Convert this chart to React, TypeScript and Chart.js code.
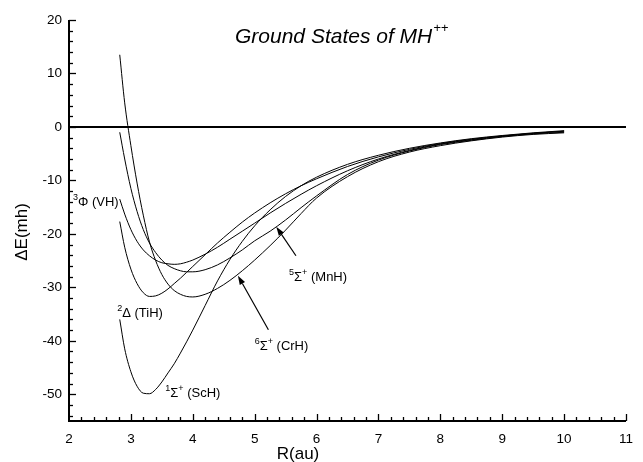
import { useEffect, useRef } from "react";
import { Chart, registerables } from "chart.js";

Chart.register(...registerables);

// ---------- data ----------
const R_GRID = [2.82, 2.9, 3.0, 3.1, 3.2, 3.3, 3.4, 3.5, 3.6, 3.7, 3.8, 3.9, 4.0, 4.2, 4.4, 4.6, 4.8, 5.0, 5.25, 5.5, 5.75, 6.0, 6.5, 7.0, 7.5, 8.0, 8.5, 9.0, 9.5, 10.0];

const SCH = [-36, -41.5, -45.8, -48.5, -49.8, -49.9, -49.1, -47.7, -46.0, -44.3, -42.3, -40.2, -38.0, -33.4, -28.8, -24.8, -21.4, -18.5, -15.5, -13.0, -11.0, -9.4, -7.0, -5.3, -4.0, -3.0, -2.2, -1.6, -1.1, -0.7];
const TIH = [-17.7, -22.5, -26.6, -29.3, -31.0, -31.7, -31.6, -31.1, -30.3, -29.3, -28.3, -27.2, -26.1, -23.9, -21.7, -19.7, -17.8, -16.1, -14.2, -12.5, -11.0, -9.7, -7.4, -5.6, -4.2, -3.1, -2.3, -1.7, -1.2, -0.8];
const VH = [-13.5, -16.3, -19.2, -21.4, -23.0, -24.1, -24.9, -25.4, -25.6, -25.7, -25.6, -25.3, -24.9, -23.8, -22.5, -21.0, -19.5, -18.0, -16.1, -14.3, -12.6, -11.0, -8.2, -6.0, -4.4, -3.2, -2.4, -1.7, -1.2, -0.8];
const CRH = [13.5, 4.5, -3.5, -10.5, -16.5, -21.5, -25.0, -27.6, -29.4, -30.6, -31.3, -31.7, -31.8, -31.3, -30.2, -28.7, -26.9, -24.9, -22.2, -19.3, -16.2, -13.3, -9.3, -6.5, -4.7, -3.5, -2.6, -1.9, -1.4, -1.1];
const MNH = [-1.0, -6.0, -11.5, -15.8, -19.2, -21.7, -23.5, -24.9, -25.9, -26.5, -26.9, -27.1, -27.1, -26.7, -25.8, -24.5, -23.0, -21.3, -19.5, -17.4, -15.1, -12.9, -8.9, -6.2, -4.5, -3.3, -2.5, -1.8, -1.3, -1.0];

const ZERO_R = [2, 11];
const ZERO_E = [0, 0];

const X_MIN = 2;
const X_MAX = 11;
const Y_MIN = -55;
const Y_MAX = 20;

const TITLE_MAIN = "Ground States of MH";
const TITLE_SUP = "++";
const X_TITLE = "R(au)";
const Y_TITLE = "ΔE(mh)";

// curve labels: parts (sup = superscript), anchor in data coords (R, E)
type Part = { t: string; sup?: boolean };
const LABEL_PARTS: Part[][] = [
  [{ t: "3", sup: true }, { t: "Φ (VH)" }],
  [{ t: "2", sup: true }, { t: "Δ (TiH)" }],
  [{ t: "1", sup: true }, { t: "Σ" }, { t: "+", sup: true }, { t: " (ScH)" }],
  [{ t: "6", sup: true }, { t: "Σ" }, { t: "+", sup: true }, { t: " (CrH)" }],
  [{ t: "5", sup: true }, { t: "Σ" }, { t: "+", sup: true }, { t: " (MnH)" }],
];
const LABEL_R = [2.063, 2.778, 3.556, 5.0, 5.556];
const LABEL_E = [-14.74, -35.5, -50.45, -41.67, -28.76];

// arrows (from -> tip) in data coords
const ARROW_FROM_R = [5.222, 5.667];
const ARROW_FROM_E = [-37.93, -24.09];
const ARROW_TO_R = [4.73, 5.349];
const ARROW_TO_E = [-27.83, -18.66];

const FONT = "'Liberation Sans', Arial, Helvetica, sans-serif";

function pts(xs: number[], ys: number[]) {
  return xs.map((x, i) => ({ x, y: ys[i] }));
}

function drawParts(ctx: CanvasRenderingContext2D, parts: Part[], x: number, y: number, size: number, supSize: number) {
  let cx = x;
  for (const p of parts) {
    if (p.sup) {
      ctx.font = `${supSize}px ${FONT}`;
      ctx.fillText(p.t, cx, y - size * 0.42);
    } else {
      ctx.font = `${size}px ${FONT}`;
      ctx.fillText(p.t, cx, y);
    }
    cx += ctx.measureText(p.t).width;
  }
}

const overlay = {
  id: "overlay",
  afterDraw(chart: any) {
    const { ctx, chartArea: a, scales } = chart;
    const xs = scales.x;
    const ys = scales.y;
    ctx.save();
    ctx.strokeStyle = "#000";
    ctx.fillStyle = "#000";

    // axes lines
    ctx.lineWidth = 2;
    ctx.beginPath();
    ctx.moveTo(a.left, a.top);
    ctx.lineTo(a.left, a.bottom);
    ctx.lineTo(a.right, a.bottom);
    ctx.stroke();

    // y ticks (inside, pointing right)
    ctx.lineWidth = 1.3;
    for (let v = Y_MIN + 1; v <= Y_MAX; v += 2) {
      if (v % 2 !== 0) continue;
      const py = Math.round(ys.getPixelForValue(v)) + 0.5;
      const len = v % 10 === 0 ? 7 : 4;
      ctx.beginPath();
      ctx.moveTo(a.left, py);
      ctx.lineTo(a.left + len, py);
      ctx.stroke();
    }
    // x ticks (inside, pointing up)
    for (let k = 0; k <= (X_MAX - X_MIN) * 5; k++) {
      const v = X_MIN + k * 0.2;
      if (k === 0) continue;
      const px = Math.round(xs.getPixelForValue(v)) + 0.5;
      const len = k % 5 === 0 ? 7 : 4;
      ctx.beginPath();
      ctx.moveTo(px, a.bottom);
      ctx.lineTo(px, a.bottom - len);
      ctx.stroke();
    }

    // title
    ctx.textBaseline = "alphabetic";
    ctx.textAlign = "left";
    ctx.font = `italic 21px ${FONT}`;
    const tx = 235;
    ctx.fillText(TITLE_MAIN, tx, 43);
    const w = ctx.measureText(TITLE_MAIN).width;
    ctx.font = `italic 13px ${FONT}`;
    ctx.fillText(TITLE_SUP, tx + w + 1, 32);

    // axis titles
    ctx.font = `17px ${FONT}`;
    ctx.textAlign = "center";
    ctx.fillText(X_TITLE, 298, 459);
    ctx.save();
    ctx.translate(27, 232);
    ctx.rotate(-Math.PI / 2);
    ctx.fillText(Y_TITLE, 0, 0);
    ctx.restore();

    // curve labels
    ctx.textAlign = "left";
    LABEL_PARTS.forEach((parts, i) => {
      const px = xs.getPixelForValue(LABEL_R[i]);
      const py = ys.getPixelForValue(LABEL_E[i]);
      drawParts(ctx, parts, px, py, 13, 9);
    });

    // arrows
    ctx.lineWidth = 1.2;
    ARROW_FROM_R.forEach((_, i) => {
      const x0 = xs.getPixelForValue(ARROW_FROM_R[i]);
      const y0 = ys.getPixelForValue(ARROW_FROM_E[i]);
      const x1 = xs.getPixelForValue(ARROW_TO_R[i]);
      const y1 = ys.getPixelForValue(ARROW_TO_E[i]);
      const ang = Math.atan2(y1 - y0, x1 - x0);
      const hl = 9;
      const hw = 3;
      const bx = x1 - hl * Math.cos(ang);
      const by = y1 - hl * Math.sin(ang);
      ctx.beginPath();
      ctx.moveTo(x0, y0);
      ctx.lineTo(bx, by);
      ctx.stroke();
      ctx.beginPath();
      ctx.moveTo(x1, y1);
      ctx.lineTo(bx + hw * Math.sin(ang), by - hw * Math.cos(ang));
      ctx.lineTo(bx - hw * Math.sin(ang), by + hw * Math.cos(ang));
      ctx.closePath();
      ctx.fill();
    });

    ctx.restore();
  },
};

export default function App() {
  const ref = useRef<HTMLCanvasElement | null>(null);

  useEffect(() => {
    if (!ref.current) return;
    const curve = (ys: number[]) => ({
      data: pts(R_GRID, ys),
      borderColor: "#000",
      borderWidth: 1,
      pointRadius: 0,
      fill: false,
      cubicInterpolationMode: "monotone" as const,
    });
    const chart = new Chart(ref.current, {
      type: "line",
      data: {
        datasets: [
          {
            data: pts(ZERO_R, ZERO_E),
            borderColor: "#000",
            borderWidth: 2,
            pointRadius: 0,
            fill: false,
          },
          curve(SCH),
          curve(TIH),
          curve(VH),
          curve(CRH),
          curve(MNH),
        ],
      },
      options: {
        animation: false,
        responsive: false,
        events: [],
        layout: { padding: { top: 20, right: 7, left: 0, bottom: 0 } },
        plugins: {
          legend: { display: false },
          tooltip: { enabled: false },
          title: { display: false },
        },
        scales: {
          x: {
            type: "linear",
            min: X_MIN,
            max: X_MAX,
            border: { display: false },
            grid: { display: false, drawTicks: false },
            ticks: {
              stepSize: 1,
              padding: 10,
              color: "#000",
              font: { family: FONT, size: 13.5 },
              maxRotation: 0,
            },
            afterFit: (s: any) => {
              s.height = 41;
            },
          },
          y: {
            type: "linear",
            min: Y_MIN,
            max: Y_MAX,
            border: { display: false },
            grid: { display: false, drawTicks: false },
            ticks: {
              stepSize: 10,
              includeBounds: false,
              padding: 7,
              color: "#000",
              font: { family: FONT, size: 13.5 },
            },
            afterFit: (s: any) => {
              s.width = 69;
            },
          },
        },
      },
      plugins: [overlay],
    } as any);
    return () => chart.destroy();
  }, []);

  return (
    <div style={{ position: "fixed", left: 0, top: 0, width: 643, height: 462, background: "#fff" }}>
      <canvas ref={ref} width={643} height={462} />
    </div>
  );
}
